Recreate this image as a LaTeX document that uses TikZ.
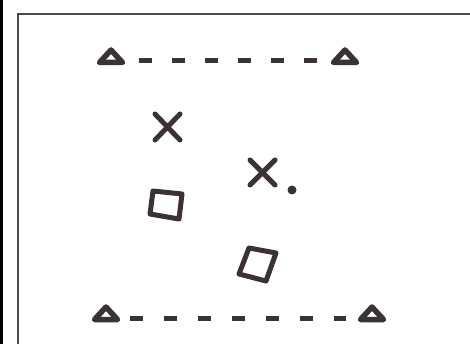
\documentclass[tikz,border=0pt]{standalone}
\begin{document}
\begin{tikzpicture}[x=1pt,y=1pt,
  ink/.style={draw=inkc,line width=5pt,line cap=round,line join=round},
  tri/.style={draw=inkc,line width=5.5pt,line join=round},
  dashline/.style={draw=inkc,line width=5pt},
]
\definecolor{inkc}{HTML}{3A3234}
\useasboundingbox (0,0) rectangle (470,-344);
\fill[white] (0,0) rectangle (470,-344);
% frame lines
\draw[black,line width=2.5pt] (1.5,0) -- (1.5,-344);
\draw[black!70,line width=2.5pt] (18,-344) -- (18,-14) -- (470,-14);
% triangle anchor points
\coordinate (tl) at (111,-61);
\coordinate (tr) at (345,-61);
\coordinate (bl) at (106,-318);
\coordinate (br) at (372,-318);
\foreach \c in {tl,tr,bl,br}
  \draw[tri] ([shift={(-11.5,-1.5)}]\c) -- ([shift={(11.5,-1.5)}]\c) -- ([shift={(0,11)}]\c) -- cycle;
% dashed connectors
\draw[dashline,dash pattern=on 13pt off 20pt,shorten <=28pt,shorten >=28pt] (tl) -- (tr);
\draw[dashline,dash pattern=on 13pt off 21pt,shorten <=24pt,shorten >=26pt] (bl) -- (br);
% crosses
\draw[ink] (155,-114) -- (180,-140) (180,-114) -- (155,-140);
\draw[ink] (250,-160) -- (275,-185) (275,-160) -- (250,-185);
\fill[inkc] (292,-190) circle (4.5);
% squares
\draw[ink] (153,-191) -- (182,-194) -- (179,-219) -- (150,-214) -- cycle;
\draw[ink] (249,-248) -- (276,-253) -- (266,-281) -- (239,-274) -- cycle;
\end{tikzpicture}
\end{document}
